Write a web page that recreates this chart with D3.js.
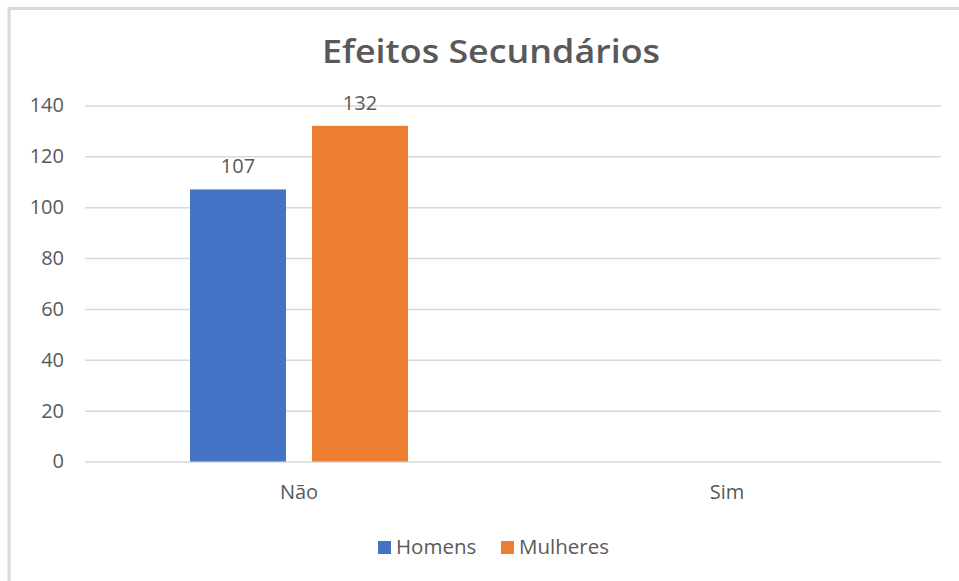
<!DOCTYPE html>
<html>
<head>
<meta charset="utf-8">
<script src="https://cdn.jsdelivr.net/npm/d3@7"></script>
<style>
  html, body { margin: 0; padding: 0; background: #fff; }
  svg { display: block; }
  text { font-family: "Open Sans", "Noto Sans", sans-serif; fill: #595959; }
</style>
</head>
<body>
<script>
const title = "Efeitos Secundários";
const categories = ["Não", "Sim"];
const seriesNames = ["Homens", "Mulheres"];
const homens = [107, null];
const mulheres = [132, null];
const yTicks = [0, 20, 40, 60, 80, 100, 120, 140];
const colors = ["#4472C4", "#ED7D31"];

(function () {
const W = 959, H = 581;
const svg = d3.select("body").append("svg").attr("width", W).attr("height", H);

// chart border
svg.append("rect").attr("x", 9).attr("y", 8.5).attr("width", W + 20).attr("height", H + 20)
  .attr("fill", "none").attr("stroke", "#d9d9d9").attr("stroke-width", 3);

const pLeft = 85, pRight = 941, pTop = 105.5, pBottom = 461.5;
const y = d3.scaleLinear().domain([0, 140]).range([pBottom, pTop]);
const x0 = d3.scaleBand().domain(categories).range([pLeft, pRight]).padding(0);
const groupW = 218;
const x1 = d3.scaleBand().domain(seriesNames).range([-groupW / 2, groupW / 2]).paddingInner(0.213).paddingOuter(0);

// title
svg.append("text").attr("x", 491).attr("y", 63).attr("text-anchor", "middle")
  .attr("font-size", 33).attr("font-weight", 600).attr("textLength", 338)
  .attr("lengthAdjust", "spacingAndGlyphs").text(title);

// gridlines + y axis
const yAxis = d3.axisLeft(y).tickValues(yTicks).tickSize(-(pRight - pLeft)).tickPadding(21);
const gy = svg.append("g").attr("transform", `translate(${pLeft},0)`).call(yAxis);
gy.select(".domain").remove();
gy.selectAll(".tick line").attr("stroke", "#d9d9d9").attr("stroke-width", 1.5);
gy.selectAll(".tick text").attr("font-size", 20).attr("fill", "#595959")
  .style("font-family", "'Open Sans', sans-serif");

// x axis labels
const xAxis = d3.axisBottom(x0).tickSize(0).tickPadding(23);
const gx = svg.append("g").attr("transform", `translate(0,${pBottom})`).call(xAxis);
gx.select(".domain").remove();
gx.selectAll(".tick text").attr("font-size", 20).attr("fill", "#595959")
  .style("font-family", "'Open Sans', sans-serif");

// bars
const data = [];
categories.forEach((c, i) => {
  data.push({ cat: c, s: seriesNames[0], v: homens[i], color: colors[0] });
  data.push({ cat: c, s: seriesNames[1], v: mulheres[i], color: colors[1] });
});
const valid = data.filter(d => d.v != null);
svg.append("g").selectAll("rect").data(valid).join("rect")
  .attr("x", d => x0(d.cat) + x0.bandwidth() / 2 + x1(d.s))
  .attr("y", d => y(d.v))
  .attr("width", x1.bandwidth())
  .attr("height", d => y(0) - y(d.v))
  .attr("fill", d => d.color);

svg.append("g").selectAll("text").data(valid).join("text")
  .attr("x", d => x0(d.cat) + x0.bandwidth() / 2 + x1(d.s) + x1.bandwidth() / 2)
  .attr("y", d => y(d.v) - 16)
  .attr("text-anchor", "middle").attr("font-size", 20)
  .text(d => d.v);

// legend
const legendItems = [
  { name: seriesNames[0], color: colors[0], sx: 378, tx: 396 },
  { name: seriesNames[1], color: colors[1], sx: 501, tx: 519 }
];
const lg = svg.append("g");
legendItems.forEach(it => {
  lg.append("rect").attr("x", it.sx).attr("y", 541).attr("width", 13).attr("height", 13).attr("fill", it.color);
  lg.append("text").attr("x", it.tx).attr("y", 554).attr("font-size", 20.5).text(it.name);
});
})();
</script>
</body>
</html>
